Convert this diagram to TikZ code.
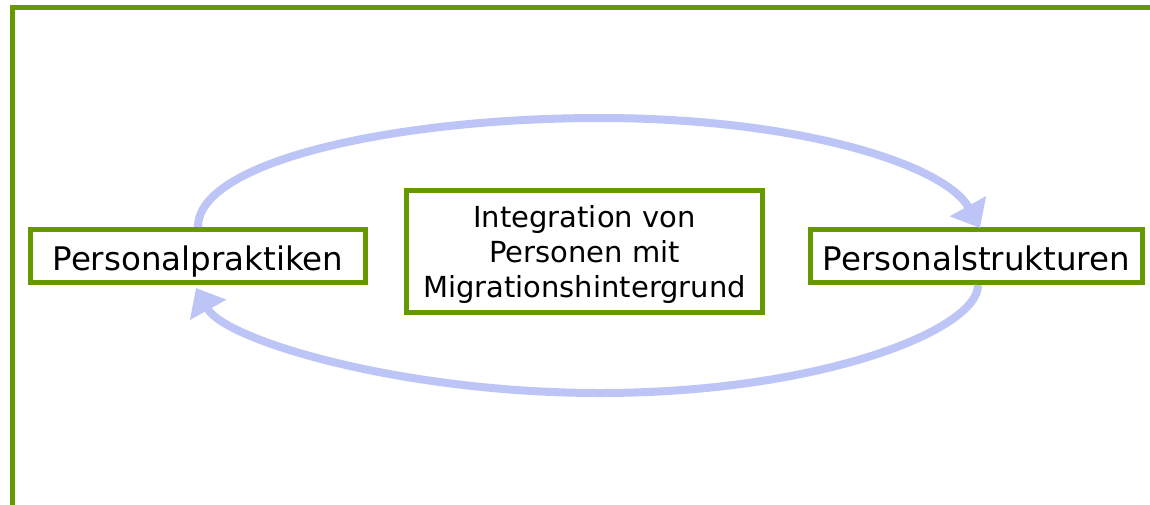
\documentclass[tikz,border=0pt]{standalone}
\usepackage{fontspec}
\setmainfont{DejaVu Sans}
\usetikzlibrary{arrows.meta}
\definecolor{frgreen}{HTML}{669900}
\definecolor{arrblue}{HTML}{BCC5F5}
\tikzset{
  box/.style={draw=frgreen, line width=5pt, fill=white, inner sep=0pt, align=center},
  sidebox/.style={box, minimum height=53pt, text height=30pt, text depth=2pt, font=\fontsize{32.5}{38}\selectfont},
  loop/.style={draw=arrblue, line width=8pt, -{Triangle[length=25pt,width=40pt]}},
}
\newcommand{\lowertext}[1]{\raisebox{-4pt}[\height][\depth]{#1}}
\begin{document}
\begin{tikzpicture}[x=1pt,y=-1pt]
\useasboundingbox (0,0) rectangle (1150,504);
\fill[white] (0,0) rectangle (1150,504);
\draw[frgreen, line width=5.5pt, line join=miter] (1152,7.5) -- (12.5,7.5) -- (12.5,506);
\node[sidebox, minimum width=335pt] (left) at (198,256) {Personalpraktiken};
\node[sidebox, minimum width=332pt] (right) at (976.5,256) {Personalstrukturen};
\node[box, minimum width=356pt, minimum height=122pt, font=\fontsize{29}{35}\selectfont] (mid) at (584.5,251.5) {\lowertext{\begin{tabular}{@{}c@{}}Integration von\\Personen mit\\Migrationshintergrund\end{tabular}}};
\draw[loop] (left.north) .. controls (198,160) and (400,118) .. (600,118) .. controls (800,118) and (945,165) .. ([xshift=3.5pt,yshift=-1pt]right.north);
\draw[loop] ([xshift=1.5pt]right.south) .. controls (978,330) and (820,393) .. (600,393) .. controls (400,393) and (225,340) .. ([xshift=-2pt,yshift=-3pt]left.south);
\end{tikzpicture}
\end{document}
